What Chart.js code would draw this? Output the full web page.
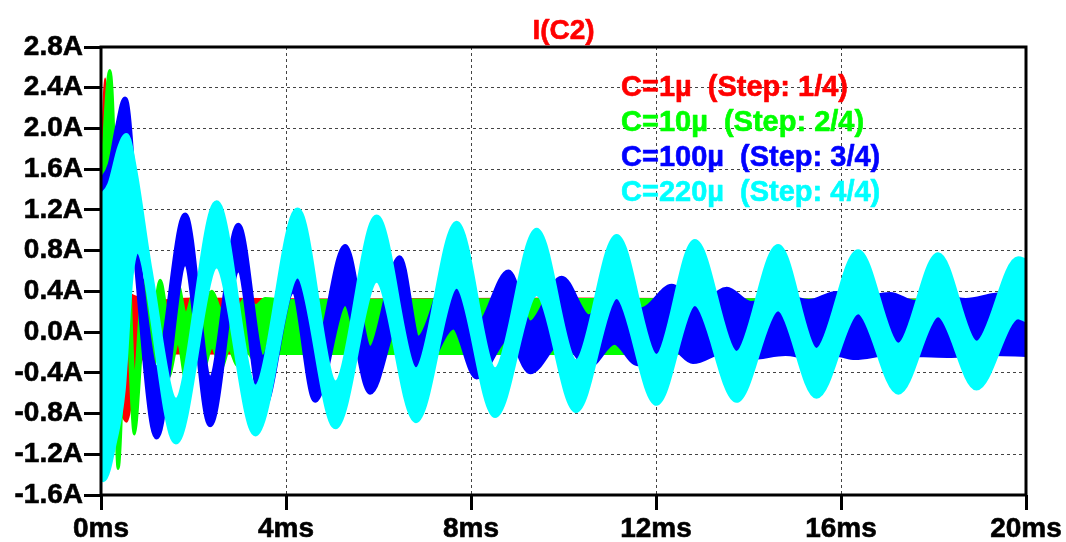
<!DOCTYPE html>
<html><head><meta charset="utf-8">
<script src="https://cdn.jsdelivr.net/npm/chart.js@4/dist/chart.umd.min.js"></script>
<style>html,body{margin:0;padding:0;background:#fff;overflow:hidden}#wrap{width:1066px;height:542px;position:relative}</style>
</head><body><div id="wrap"><canvas id="c"></canvas></div>
<script>
const plotTitle = 'I(C2)';
const seriesLabels = ['C=1µ  (Step: 1/4)', 'C=10µ  (Step: 2/4)', 'C=100µ  (Step: 3/4)', 'C=220µ  (Step: 4/4)'];
const seriesColors = ['#ff0000', '#00ff00', '#0000ff', '#00ffff'];
const xTickValues = [0, 4, 8, 12, 16, 20];
const xTickLabels = ['0ms', '4ms', '8ms', '12ms', '16ms', '20ms'];
const yTickValues = [-1.6, -1.2, -0.8, -0.4, 0, 0.4, 0.8, 1.2, 1.6, 2.0, 2.4, 2.8];
const yTickLabels = ['-1.6A', '-1.2A', '-0.8A', '-0.4A', '0.0A', '0.4A', '0.8A', '1.2A', '1.6A', '2.0A', '2.4A', '2.8A'];

// Envelopes of the (high-frequency) current traces: [time ms, current A]
const red1uUpper = [[0,1.5],[0.09,2.49],[0.17,1.4],[0.35,0.9],[0.55,0.45],[0.8,0.34],[1.2,0.31],[2,0.33],[5,0.32],[10,0.33],[15,0.32],[20,0.32]];
const red1uLower = [[0,0.3],[0.09,0.5],[0.2,-0.6],[0.4,-0.78],[0.55,-0.88],[0.75,-0.45],[1.0,-0.2],[1.5,-0.21],[5,-0.213],[10,-0.215],[15,-0.213],[20,-0.215]];

const green10uUpper = [[0,1.45],[0.19,2.57],[0.30,1.52],[0.37,-0.6],[0.55,1.2],[0.72,-0.45],[0.92,0.51],[1.10,0.10],[1.28,0.51],[1.46,0.15],[1.67,0.46],[1.83,0.18],[2.03,0.42],[2.20,0.20],[2.40,0.40],[2.60,0.22],[2.77,0.37],[2.95,0.24],[3.15,0.35],[3.35,0.26],[3.55,0.33],[4.0,0.31],[10,0.32],[20,0.31]];
const green10uLower = [[0,0.6],[0.19,1.6],[0.37,-1.34],[0.55,0.2],[0.72,-1.0],[0.92,-0.05],[1.10,-0.39],[1.28,-0.05],[1.46,-0.44],[1.67,-0.10],[1.83,-0.46],[2.03,-0.12],[2.20,-0.38],[2.40,-0.15],[2.60,-0.36],[2.77,-0.17],[2.95,-0.33],[3.15,-0.19],[3.35,-0.30],[3.55,-0.21],[4.0,-0.21],[10,-0.21],[20,-0.21]];

const blue100uUpper = [[0,1.48],[0.2,1.65],[0.35,2.0],[0.52,2.29],[0.66,1.75],[0.72,1.2],[0.85,0.6],[1.20,-0.35],[1.82,1.15],[2.36,-0.45],[2.97,1.05],[3.50,-0.25],[4.15,0.95],[4.63,-0.20],[5.28,0.84],[5.82,-0.16],[6.46,0.73],[6.86,-0.06],[7.62,0.70],[8.12,0.05],[8.81,0.59],[9.28,0.09],[9.96,0.53],[10.55,0.15],[11.10,0.46],[11.70,0.22],[12.34,0.45],[12.90,0.25],[13.53,0.42],[14.05,0.28],[14.80,0.34],[15.30,0.30],[15.90,0.38],[16.40,0.33],[17.06,0.37],[17.60,0.29],[18.30,0.33],[18.70,0.31],[19.30,0.36],[20,0.40]];
const blue100uLower = [[0,0.6],[0.52,1.40],[1.20,-1.03],[1.82,0.67],[2.36,-0.91],[2.97,0.61],[3.50,-0.75],[4.15,0.40],[4.63,-0.67],[5.28,0.28],[5.82,-0.59],[6.46,0.15],[6.86,-0.46],[7.62,0.05],[8.12,-0.44],[8.81,-0.05],[9.28,-0.39],[9.96,-0.08],[10.55,-0.33],[11.10,-0.10],[11.60,-0.31],[12.34,-0.15],[12.80,-0.29],[13.53,-0.18],[14.05,-0.25],[14.80,-0.21],[15.30,-0.24],[15.90,-0.22],[16.30,-0.25],[17.06,-0.21],[17.60,-0.22],[18.30,-0.23],[19.30,-0.21],[20,-0.22]];

const cyan220uUpper = [[0,1.33],[0.19,1.45],[0.41,1.82],[0.55,1.93],[0.73,1.59],[1.06,0.61],[1.62,-0.67],[2.50,1.27],[3.34,-0.54],[4.25,1.20],[5.07,-0.50],[5.96,1.13],[6.81,-0.37],[7.69,1.07],[8.52,-0.37],[9.42,1.00],[10.27,-0.29],[11.15,0.94],[12.01,-0.24],[12.84,0.89],[13.74,-0.21],[14.64,0.84],[15.47,-0.18],[16.37,0.79],[17.24,-0.13],[18.10,0.76],[18.93,-0.11],[19.83,0.72],[20,0.70]];
const cyan220uLower = [[0,-1.40],[0.05,-1.45],[0.30,-1.06],[0.48,-0.57],[0.65,0.55],[0.78,0.80],[1.62,-1.08],[2.50,0.65],[3.34,-1.00],[4.25,0.55],[5.07,-0.93],[5.96,0.51],[6.81,-0.87],[7.69,0.45],[8.52,-0.82],[9.42,0.38],[10.27,-0.77],[11.15,0.35],[12.01,-0.70],[12.84,0.28],[13.74,-0.67],[14.64,0.23],[15.47,-0.63],[16.37,0.20],[17.24,-0.59],[18.10,0.17],[18.93,-0.55],[19.83,0.15],[20,0.12]];

const FONT = '"Liberation Sans", Arial, sans-serif';
const toXY = arr => arr.map(p => ({x: p[0], y: p[1]}));

function band(upper, lower, color, w) {
  const common = {borderColor: color, backgroundColor: color, borderWidth: w, pointRadius: 0,
    cubicInterpolationMode: 'monotone', borderJoinStyle: 'round', borderCapStyle: 'round'};
  return [
    Object.assign({data: toXY(upper), fill: '+1'}, common),
    Object.assign({data: toXY(lower), fill: false}, common)
  ];
}

// index 0 is drawn last (on top): cyan, blue, green, red
const datasets = [
  ...band(cyan220uUpper, cyan220uLower, seriesColors[3], 5),
  ...band(blue100uUpper, blue100uLower, seriesColors[2], 5),
  ...band(green10uUpper, green10uLower, seriesColors[1], 3),
  ...band(red1uUpper, red1uLower, seriesColors[0], 2)
];

const overlay = {
  id: 'overlay',
  afterDatasetsDraw(chart) {
    const {ctx, chartArea: a} = chart;
    ctx.save();
    ctx.strokeStyle = '#000';
    ctx.lineWidth = 3;
    ctx.setLineDash([]);
    ctx.strokeRect(a.left, a.top, a.right - a.left, a.bottom - a.top);
    ctx.restore();
  },
  afterDraw(chart) {
    const {ctx, chartArea: a} = chart;
    ctx.save();
    ctx.textBaseline = 'middle';
    ctx.lineJoin = 'round';
    ctx.textAlign = 'center';
    ctx.font = 'bold 28px ' + FONT;
    ctx.fillStyle = '#ff0000';
    ctx.strokeStyle = '#ff0000';
    ctx.lineWidth = 0.6;
    ctx.fillText(plotTitle, (a.left + a.right) / 2, 31);
    ctx.strokeText(plotTitle, (a.left + a.right) / 2, 31);
    ctx.textAlign = 'left';
    ctx.font = 'bold 29px ' + FONT;
    const ys = [88, 123, 158, 193];
    for (let i = 0; i < seriesLabels.length; i++) {
      ctx.fillStyle = seriesColors[i];
      ctx.strokeStyle = seriesColors[i];
      ctx.fillText(seriesLabels[i], 621, ys[i]);
      ctx.strokeText(seriesLabels[i], 621, ys[i]);
    }
    ctx.restore();
  }
};

const tickFont = {family: FONT, size: 28, weight: 'bold'};

new Chart(document.getElementById('c'), {
  type: 'line',
  data: {datasets},
  options: {
    responsive: true,
    maintainAspectRatio: false,
    animation: false,
    events: [],
    layout: {padding: {top: 47, right: 40, left: 0, bottom: 0}},
    plugins: {legend: {display: false}, tooltip: {enabled: false}, title: {display: false}},
    scales: {
      x: {
        type: 'linear', min: 0, max: 20,
        afterBuildTicks: s => { s.ticks = xTickValues.map(v => ({value: v})); },
        afterFit: s => { s.height = 47; },
        ticks: {
          callback: (v, i) => xTickLabels[i],
          font: tickFont, color: '#000', textStrokeColor: '#000', textStrokeWidth: 0.6,
          padding: 2, maxRotation: 0, autoSkip: false
        },
        grid: {color: '#444', lineWidth: 1, borderDash: [3, 3], tickLength: 15, tickWidth: 3, tickColor: '#000', tickBorderDash: []},
        border: {display: false, dash: [3, 3]}
      },
      y: {
        type: 'linear', min: -1.6, max: 2.8,
        afterBuildTicks: s => { s.ticks = yTickValues.map(v => ({value: v})); },
        afterFit: s => { s.width = 101; },
        ticks: {
          callback: (v, i) => yTickLabels[i],
          font: tickFont, color: '#000', textStrokeColor: '#000', textStrokeWidth: 0.6,
          padding: 1, autoSkip: false
        },
        grid: {color: '#444', lineWidth: 1, borderDash: [3, 3], tickLength: 17, tickWidth: 3, tickColor: '#000', tickBorderDash: []},
        border: {display: false, dash: [3, 3]}
      }
    }
  },
  plugins: [overlay]
});
</script>
</body></html>
